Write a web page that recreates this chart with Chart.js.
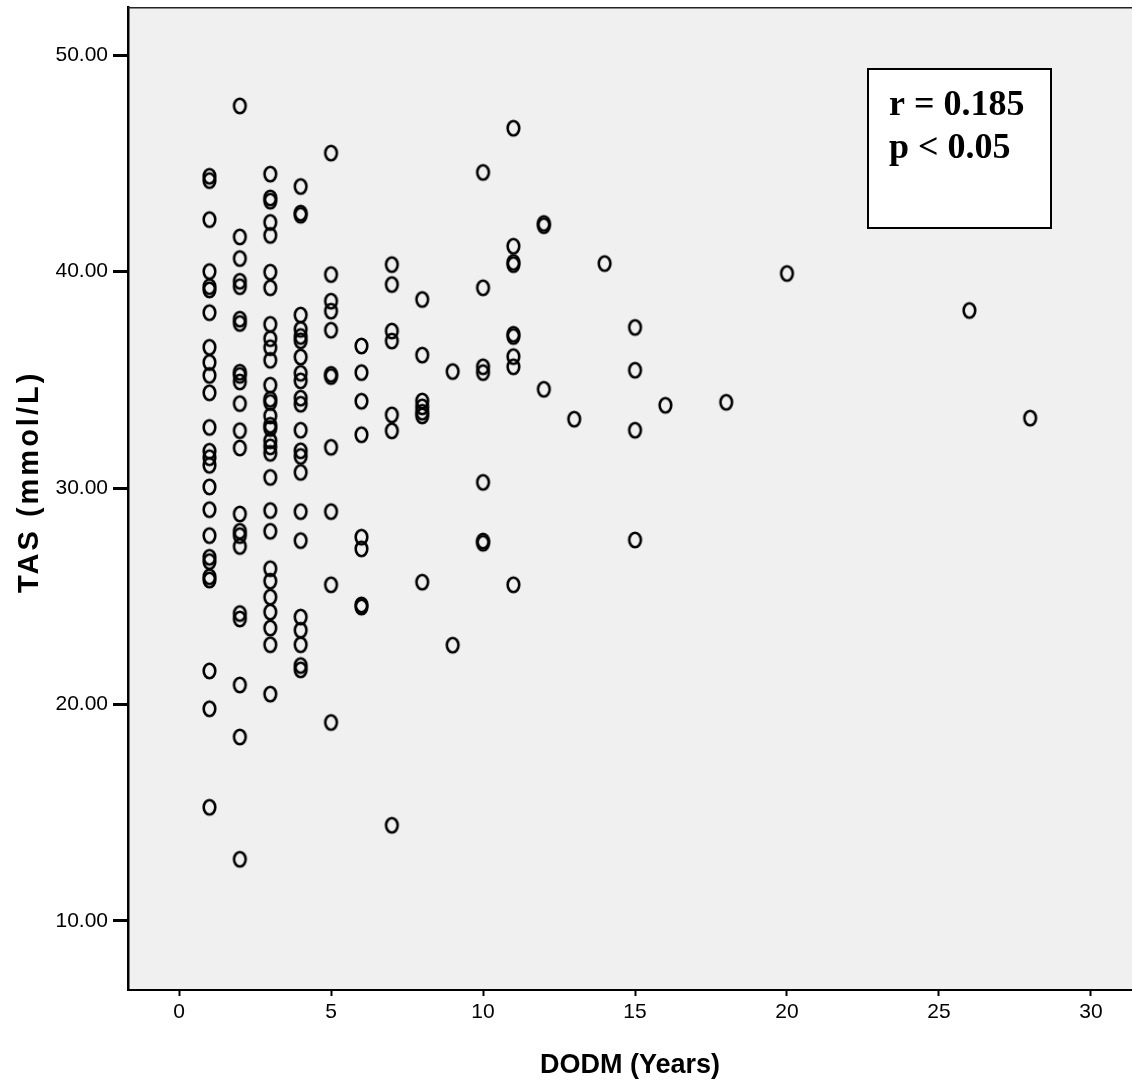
<!DOCTYPE html>
<html>
<head>
<meta charset="utf-8">
<script src="https://cdn.jsdelivr.net/npm/chart.js@4.4.1/dist/chart.umd.min.js"></script>
<style>
  html, body { margin: 0; padding: 0; background: #ffffff; }
  #wrap { width: 1132px; height: 1082px; position: relative; }
</style>
</head>
<body>
<div id="wrap"><canvas id="c" width="1132" height="1082"></canvas></div>
<script>
// ---- Data ----
const dodmLevels = [1, 2, 3, 4, 5, 6, 7, 8, 9, 10, 11, 12, 13, 14, 15, 16, 18, 20, 26, 28];
const tasAt1  = [44.4, 44.2, 42.4, 40.0, 39.3, 39.15, 38.1, 36.5, 35.8, 35.2, 34.4, 32.8, 31.7, 31.4, 31.05, 30.05, 29.0, 27.8, 26.8, 26.6, 25.9, 25.75, 21.55, 19.8, 15.25];
const tasAt2  = [47.65, 41.6, 40.6, 39.55, 39.3, 37.8, 37.6, 35.35, 35.2, 34.9, 33.9, 32.65, 31.85, 28.8, 28.0, 27.8, 27.3, 24.2, 23.95, 20.9, 18.5, 12.85];
const tasAt3  = [44.5, 43.4, 43.25, 42.27, 41.67, 39.97, 39.25, 37.56, 36.9, 36.48, 35.9, 34.75, 34.1, 33.95, 33.33, 32.9, 32.75, 32.18, 31.9, 31.6, 30.49, 28.96, 28.0, 26.27, 25.7, 24.96, 24.27, 23.53, 22.76, 20.48];
const tasAt4  = [43.93, 42.7, 42.6, 37.99, 37.33, 37.0, 36.8, 36.05, 35.3, 34.95, 34.15, 33.87, 32.67, 31.72, 31.46, 30.72, 28.91, 27.57, 24.04, 23.43, 22.76, 21.8, 21.6];
const tasAt5  = [45.47, 39.86, 38.63, 38.17, 37.29, 35.25, 35.15, 31.88, 28.91, 25.53, 19.17];
const tasAt6  = [36.56, 35.33, 34.01, 32.46, 27.73, 27.19, 24.6, 24.5];
const tasAt7  = [40.32, 39.4, 37.25, 36.79, 33.38, 32.64, 14.42];
const tasAt8  = [38.71, 36.14, 34.02, 33.75, 33.5, 33.33, 25.65];
const tasAt9  = [35.38, 22.74];
const tasAt10 = [44.58, 39.25, 35.6, 35.33, 30.26, 27.55, 27.45];
const tasAt11 = [46.62, 41.17, 40.42, 40.32, 37.1, 37.0, 36.07, 35.6, 25.53];
const tasAt12 = [42.22, 42.12, 34.56];
const tasAt13 = [33.18];
const tasAt14 = [40.37];
const tasAt15 = [37.42, 35.44, 32.67, 27.6];
const tasAt16 = [33.82];
const tasAt18 = [33.96];
const tasAt20 = [39.91];
const tasAt26 = [38.2];
const tasAt28 = [33.23];
const tasGroups = [tasAt1, tasAt2, tasAt3, tasAt4, tasAt5, tasAt6, tasAt7, tasAt8, tasAt9, tasAt10,
                   tasAt11, tasAt12, tasAt13, tasAt14, tasAt15, tasAt16, tasAt18, tasAt20, tasAt26, tasAt28];
const xTickValues = [0, 5, 10, 15, 20, 25, 30];
const yTickValues = [10, 20, 30, 40, 50];
const xTitle = 'DODM (Years)';
const yTitle = 'TAS (mmol/L)';
const statLines = ['r = 0.185', 'p < 0.05'];

// build point table
const points = [];
dodmLevels.forEach((d, i) => tasGroups[i].forEach(v => points.push({ x: d, y: v })));

// ellipse marker like the SPSS open circle
function makeMarker() {
  const c = document.createElement('canvas');
  c.width = 17; c.height = 20;
  const g = c.getContext('2d');
  g.strokeStyle = '#000';
  g.lineWidth = 2.6;
  g.beginPath();
  g.ellipse(8.5, 10, 5.8, 7.2, 0, 0, Math.PI * 2);
  g.stroke();
  return c;
}
const marker = makeMarker();

const tickFont = { family: "'Liberation Sans', Arial, sans-serif", size: 21 };

const framePlugin = {
  id: 'frame',
  beforeDraw(chart) {
    const { ctx, chartArea: a } = chart;
    ctx.save();
    ctx.fillStyle = '#f0f0f0';
    ctx.fillRect(a.left, a.top, a.right - a.left, a.bottom - a.top);
    ctx.restore();
  },
  afterDraw(chart) {
    const { ctx, chartArea: a } = chart;
    ctx.save();
    ctx.strokeStyle = '#222';
    ctx.lineWidth = 1.5;
    ctx.beginPath();
    ctx.moveTo(a.left, a.top + 0.75);
    ctx.lineTo(a.right, a.top + 0.75);
    ctx.stroke();
    // y axis title with letter spacing
    ctx.save();
    ctx.translate(30, 593);
    ctx.rotate(-Math.PI / 2);
    ctx.fillStyle = '#000';
    ctx.font = "bold 29px 'Liberation Sans', Arial, sans-serif";
    ctx.letterSpacing = '3px';
    ctx.textAlign = 'left';
    ctx.textBaseline = 'middle';
    ctx.fillText(yTitle, 0, 0);
    ctx.restore();
    // stats box
    const bx = a.left + 740, by = 69, bw = 183, bh = 159;
    ctx.fillStyle = '#ffffff';
    ctx.fillRect(bx, by, bw, bh);
    ctx.strokeStyle = '#000';
    ctx.lineWidth = 2;
    ctx.strokeRect(bx, by, bw, bh);
    ctx.fillStyle = '#000';
    ctx.font = "bold 36px 'Liberation Serif', 'Times New Roman', serif";
    ctx.textBaseline = 'alphabetic';
    ctx.textAlign = 'left';
    ctx.fillText(statLines[0], bx + 21, by + 46);
    ctx.fillText(statLines[1], bx + 21, by + 89);
    ctx.restore();
  }
};

new Chart(document.getElementById('c'), {
  type: 'scatter',
  data: {
    datasets: [{
      data: points,
      pointStyle: marker,
      pointRadius: 8,
      pointHoverRadius: 8,
      borderColor: '#000',
      backgroundColor: 'rgba(0,0,0,0)'
    }]
  },
  options: {
    responsive: false,
    animation: false,
    devicePixelRatio: 1,
    layout: { autoPadding: false, padding: { top: 7, right: 0, bottom: 0, left: 0 } },
    plugins: { legend: { display: false }, tooltip: { enabled: false } },
    scales: {
      x: {
        type: 'linear',
        min: -1.68,
        max: 31.35,
        afterBuildTicks(scale) { scale.ticks = xTickValues.map(v => ({ value: v })); },
        afterFit(scale) { scale.height = 92; scale.paddingLeft = 0; scale.paddingRight = 0; },
        grid: { display: true, drawOnChartArea: false, drawTicks: true, tickLength: 6, tickWidth: 2, tickColor: '#000' },
        border: { display: true, color: '#000', width: 2 },
        ticks: { color: '#000', font: tickFont, padding: 4, maxRotation: 0, autoSkip: false, callback: v => String(v) },
        title: { display: true, text: xTitle, color: '#000', font: { family: "'Liberation Sans', Arial, sans-serif", size: 27, weight: 'bold' }, padding: { top: 12, bottom: 0 } }
      },
      y: {
        type: 'linear',
        min: 6.81,
        max: 52.22,
        afterBuildTicks(scale) { scale.ticks = yTickValues.map(v => ({ value: v })); },
        afterFit(scale) { scale.width = 128; scale.paddingTop = 0; scale.paddingBottom = 0; },
        grid: { display: true, drawOnChartArea: false, drawTicks: true, tickLength: 15, tickWidth: 3, tickColor: '#000' },
        border: { display: true, color: '#000', width: 2.5 },
        ticks: { color: '#000', font: tickFont, padding: 5, autoSkip: false, callback: v => v.toFixed(2) },
        title: { display: false }
      }
    }
  },
  plugins: [framePlugin]
});
</script>
</body>
</html>
